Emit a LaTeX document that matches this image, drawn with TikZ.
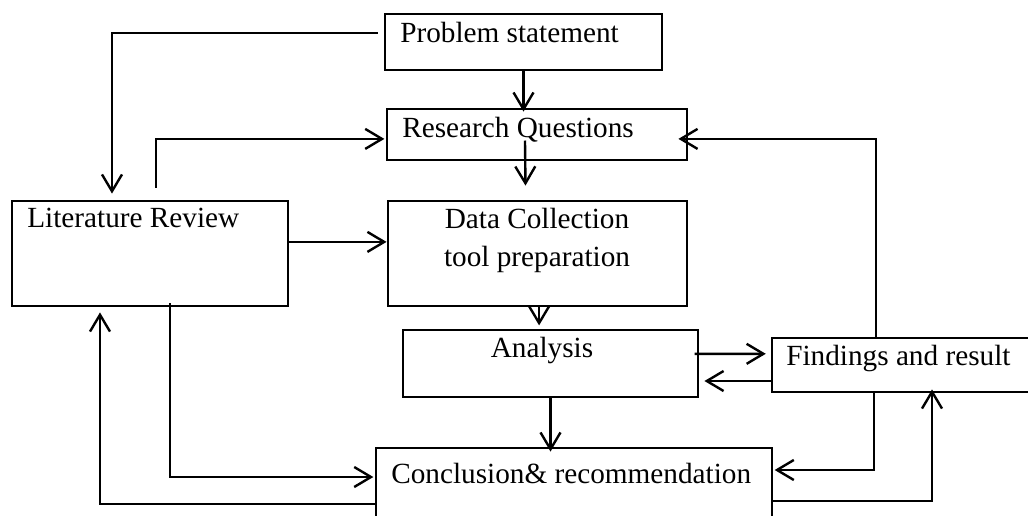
\documentclass[tikz,border=0pt]{standalone}
\usepackage{fontspec}
\setmainfont{Liberation Serif}
\usetikzlibrary{arrows.meta}

\begin{document}
\begin{tikzpicture}[x=0.025cm,y=-0.025cm]
        \tikzstyle{stage}=[rectangle,draw=black,line width=2pt,inner sep=0pt]
        \tikzstyle{caption}=[inner sep=0pt,anchor=base west,font=\fontsize{20.8}{25}\selectfont]
        \tikzstyle{flow}=[draw=black,line width=1.7pt,-{Straight Barb[length=4.2mm,width=5mm,line width=1.7pt]}]

        \useasboundingbox (0,0) rectangle (1028,515);

        \begin{scope}

         \node [stage,minimum width=6.925cm,minimum height=1.4cm] (ps) at (523.5,42) {};
         \node [stage,minimum width=7.5cm,minimum height=1.275cm] (rq) at (537,134.5) {};
         \node [stage,minimum width=6.9cm,minimum height=2.625cm] (lr) at (150,253.5) {};
         \node [stage,minimum width=7.475cm,minimum height=2.625cm] (dc) at (537.5,253.5) {};
         \node [stage,minimum width=7.375cm,minimum height=1.675cm] (an) at (550.5,363.5) {};
         \node [stage,minimum width=6.7cm,minimum height=1.35cm] (fr) at (906,365) {};
         \node [stage,minimum width=9.9cm,minimum height=2.3cm] (cr) at (574,494) {};

         \node [caption] (ps-txt) at (400,42) {Problem statement};
         \node [caption] (rq-txt) at (402,137) {Research Questions};
         \node [caption] (lr-txt) at (27,227) {Literature Review};
         \node [caption,anchor=base] (dc-txt1) at (537,228) {Data Collection};
         \node [caption,anchor=base] (dc-txt2) at (537,266) {tool preparation};
         \node [caption,anchor=base] (an-txt) at (542,357) {Analysis};
         \node [caption] (fr-txt) at (786,365) {Findings and result};
         \node [caption] (cr-txt) at (391,483) {Conclusion\& recommendation};

        \end{scope}

 		\path[flow] ([xshift=-0.15cm,yshift=0.225cm]ps.west) -| ([xshift=-0.95cm,yshift=0.15cm]lr.north);
 		\path[flow] (ps.south) -- ([yshift=-0.1cm]rq.north -| ps.south);
 		\path[flow] ([xshift=0.15cm,yshift=0.3cm]lr.north) |- ([xshift=-0.03cm,yshift=-0.11cm]rq.west);
 		\path[flow] ([xshift=-0.3cm,yshift=-0.15cm]rq.center) -- ([xshift=-0.3cm,yshift=0.35cm]dc.north);
 		\path[flow] ([yshift=0.29cm]lr.east) -- ([yshift=0.29cm]dc.west);
 		\path[flow] ([xshift=0.04cm]dc.south) -- ([xshift=0.04cm,yshift=0.08cm]an.north -| dc.south);
 		\path[flow] ([xshift=-0.12cm,yshift=0.24cm]an.east) -- ([xshift=-0.12cm,yshift=0.28cm]fr.west);
 		\path[flow] ([yshift=-0.4cm]fr.west) -- ([xshift=0.125cm,yshift=-0.4cm]fr.west -| an.east);
 		\path[flow] (an.south) -- ([yshift=-0.125cm]an.south |- cr.north);
 		\path[flow] ([xshift=0.5cm,yshift=0.1cm]lr.south) |- ([xshift=-0.03cm,yshift=0.425cm]cr.west);
 		\path[flow] ([yshift=-0.25cm]cr.west) -| ([xshift=-1.25cm,yshift=-0.125cm]lr.south);
 		\path[flow] ([xshift=-0.8cm]fr.south) |- ([xshift=0.03cm,yshift=0.6cm]cr.east);
 		\path[flow] ([yshift=-0.175cm]cr.east) -| ([xshift=0.65cm,yshift=0.1cm]fr.south);
 		\path[flow] ([xshift=-0.75cm]fr.north) |- ([xshift=-0.25cm,yshift=-0.11cm]rq.east);

      \end{tikzpicture}
\end{document}
